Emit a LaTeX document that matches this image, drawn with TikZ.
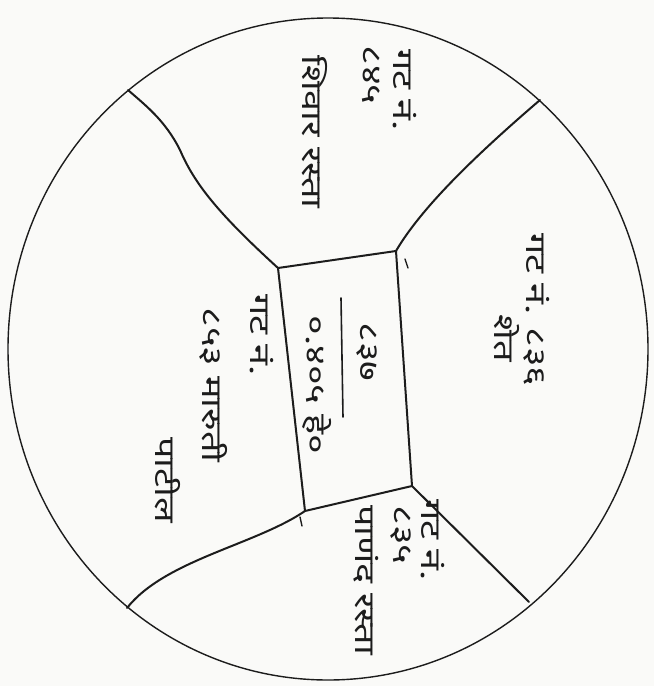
\documentclass[tikz,border=0pt]{standalone}
\usepackage{fontspec}
\usetikzlibrary{positioning,calc}
\newfontfamily\devfont[Script=Devanagari,FakeStretch=1.35]{Noto Sans}
\definecolor{ink}{HTML}{1C1C1C}
\definecolor{paper}{HTML}{FAFAF8}

\tikzset{
  lbl/.style={rotate=-90, font=\devfont\fontsize{28}{32}\selectfont, text=ink, inner sep=1pt},
  bnd/.style={ink, line width=2pt, line join=round, line cap=round},
}

\begin{document}
\begin{tikzpicture}[x=1pt,y=-1pt]
 \useasboundingbox (0,0) rectangle (654,686);
 \fill[paper] (0,0) rectangle (654,686);
 % outer boundary
 \draw[ink, line width=1.4pt] (328,349) ellipse (320pt and 331pt);
 % plot 837
 \coordinate (tl) at (278,268);
 \coordinate (tr) at (396,251);
 \coordinate (br) at (412,486);
 \coordinate (bl) at (305,511);
 \draw[bnd] (tl) -- (tr) -- (br) -- (bl) -- cycle;
 % neighbour boundaries
 \coordinate (ctl) at (128,90);
 \coordinate (ctr) at (540,100);
 \coordinate (cbr) at (529,602);
 \coordinate (cbl) at (127,608);
 \draw[bnd] (tl) .. controls (220,215) and (195,185) .. (180,150) .. controls (165,120) and (145,105) .. (ctl);
 \draw[bnd] (tr) .. controls (420,210) and (470,160) .. (ctr);
 \draw[bnd] (br) -- (cbr);
 \draw[bnd] (bl) .. controls (255,545) and (165,560) .. (cbl);
 \draw[bnd, line width=1.4pt] (405,259) -- (408,268);
 \draw[bnd, line width=1.4pt] (300,517) -- (302,526);
 % labels
 \node[lbl] (plot) at (367,352) {८३७};
 \draw[bnd, line width=1.6pt] (341,298) -- (343,417);
 \node[lbl] (area) at (317,385) {०.४०५ हे०};
 \node[lbl] (eGat) at (537,310) {गट नं. ८३६};
 \node[lbl] (eName) at (507,338) {शेत};
 \node[lbl] (nGat) at (405,90) {गट नं.};
 \node[lbl] (nNum) at (371,75) {८४५};
 \node[lbl] (nRoad) at (315,132) {शिवार रस्ता};
 \node[lbl] (wGat) at (262,335) {गट नं.};
 \node[lbl] (wNum) at (214,385) {८५३ मारुती};
 \node[lbl] (wName) at (168,480) {पाटील};
 \node[lbl] (sGat) at (433,540) {गट नं.};
 \node[lbl] (sNum) at (401,535) {८३५};
 \node[lbl] (sRoad) at (366,580) {पाणंद रस्ता};
\end{tikzpicture}
\end{document}
